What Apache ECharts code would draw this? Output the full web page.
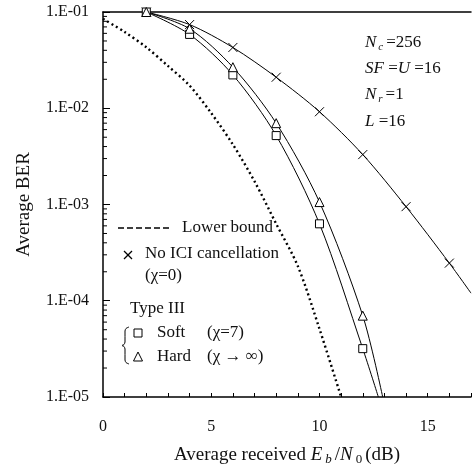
<!DOCTYPE html>
<html><head><meta charset="utf-8">
<script src="https://cdn.jsdelivr.net/npm/echarts@6/dist/echarts.min.js"></script>
<style>html,body{margin:0;padding:0;background:#fff}#c{width:474px;height:471px}</style>
</head><body><div id="c"></div>
<script>
// ---- data ----
const lbX = [0, 1, 2, 3, 4, 5, 6, 7, 8, 9, 10, 11];
const lbY = [0.085, 0.062, 0.043, 0.0275, 0.0172, 0.0089, 0.0042, 0.00174, 0.00063, 0.000229, 0.000051, 0.00001];

const noIciX = [2, 4, 6, 8, 10, 12, 14, 16];
const noIciY = [0.1, 0.074, 0.0428, 0.021, 0.0092, 0.0033, 0.00095, 0.000246];
const noIciEnd = [17, 0.00012];

const softX = [2, 4, 6, 8, 10, 12];
const softY = [0.1, 0.0585, 0.0222, 0.0052, 0.00063, 0.0000318];
const softEnd = [12.72, 0.00001];

const hardX = [2, 4, 6, 8, 10, 12];
const hardY = [0.1, 0.067, 0.0267, 0.007, 0.00106, 0.00007];
const hardEnd = [12.92, 0.00001];

const yMinorTicks = [];
[1e-5, 1e-4, 1e-3, 1e-2].forEach(d => { for (let k = 2; k <= 9; k++) yMinorTicks.push(k * d); });

const FONT = '"Liberation Serif", "Times New Roman", serif';
const INK = '#000';

function withEnd(xs, ys, end) {
  const d = xs.map((x, i) => [x, ys[i]]);
  d.push({ value: end, symbol: 'none' });
  return d;
}

const chart = echarts.init(document.getElementById('c'), null, { renderer: 'canvas' });

const rich = {
  i: { fontFamily: FONT, fontSize: 17, fontStyle: 'italic', color: '#111' },
  n: { fontFamily: FONT, fontSize: 17, color: '#111' },
  s: { fontFamily: FONT, fontSize: 11, fontStyle: 'italic', color: '#111', verticalAlign: 'bottom', padding: [8, 3, 0, 2] }
};
function ann(y, txt) {
  return { type: 'text', x: 365, y: y, style: { text: txt, rich: rich, fontFamily: FONT, fontSize: 17, fill: '#111', verticalAlign: 'middle' } };
}
function ltxt(x, y, t) {
  return { type: 'text', x: x, y: y, style: { text: t, fontFamily: FONT, fontSize: 17, fill: '#111', verticalAlign: 'middle' } };
}

const option = {
  animation: false,
  backgroundColor: '#fff',
  grid: { left: 103, right: 0, top: 12, bottom: 69, containLabel: false },
  xAxis: [{
    type: 'value', min: 0, max: 17, interval: 1,
    axisLine: { lineStyle: { color: INK, width: 1.5 } },
    axisTick: { inside: true, length: 4, lineStyle: { color: INK } },
    axisLabel: { margin: 22, fontFamily: FONT, fontSize: 16, color: '#111',
      formatter: v => (v % 5 === 0 ? String(v) : '') },
    splitLine: { show: false },
    name: 'Average received {i|E}{s|b}/{i|N}{u|0}(dB)',
    nameLocation: 'middle', nameGap: 47,
    nameTextStyle: { fontFamily: FONT, fontSize: 19, color: '#111',
      rich: {
        i: { fontFamily: FONT, fontSize: 19, fontStyle: 'italic', color: '#111' },
        s: { fontFamily: FONT, fontSize: 13, fontStyle: 'italic', color: '#111', verticalAlign: 'bottom', padding: [9, 3, 0, 3] },
        u: { fontFamily: FONT, fontSize: 13, color: '#111', verticalAlign: 'bottom', padding: [9, 3, 0, 3] }
      } }
  }, {
    type: 'value', min: 0, max: 17, position: 'top',
    axisLine: { onZero: false, lineStyle: { color: INK, width: 1.5 } },
    axisTick: { show: false }, axisLabel: { show: false }, splitLine: { show: false }
  }],
  yAxis: {
    type: 'log', logBase: 10, min: 1e-5, max: 0.1,
    axisLine: { lineStyle: { color: INK, width: 1.5 } },
    axisTick: { inside: true, length: 7, lineStyle: { color: INK } },
    axisLabel: { margin: 14, fontFamily: FONT, fontSize: 16, color: '#111',
      formatter: v => '1.E-' + String(Math.round(-Math.log10(v))).padStart(2, '0') },
    splitLine: { show: false },
    name: 'Average BER', nameLocation: 'middle', nameGap: 69,
    nameTextStyle: { fontFamily: FONT, fontSize: 19, color: '#111' }
  },
  series: [
    {
      type: 'custom', silent: true, clip: false, z: 5,
      data: yMinorTicks.map(v => [0, v]),
      renderItem: (params, api) => {
        const p = api.coord([api.value(0), api.value(1)]);
        return { type: 'line', shape: { x1: p[0], y1: p[1], x2: p[0] + 4, y2: p[1] }, style: { stroke: INK, lineWidth: 1 } };
      }
    },
    {
      name: 'Lower bound', type: 'line', smooth: 0.3, symbol: 'none',
      data: lbX.map((x, i) => [x, lbY[i]]),
      lineStyle: { color: INK, width: 2.4, type: [2, 3] }
    },
    {
      name: 'No ICI', type: 'line', smooth: 0.3,
      symbol: 'path://M0,0L10,10M10,0L0,10', symbolSize: 9,
      itemStyle: { color: 'rgba(0,0,0,0)', borderColor: INK, borderWidth: 1 },
      lineStyle: { color: INK, width: 1 },
      data: withEnd(noIciX, noIciY, noIciEnd)
    },
    {
      name: 'Soft', type: 'line', smooth: 0.3,
      symbol: 'rect', symbolSize: 8,
      itemStyle: { color: '#fff', borderColor: INK, borderWidth: 1 },
      lineStyle: { color: INK, width: 1 },
      data: withEnd(softX, softY, softEnd)
    },
    {
      name: 'Hard', type: 'line', smooth: 0.3,
      symbol: 'triangle', symbolSize: 9,
      itemStyle: { color: '#fff', borderColor: INK, borderWidth: 1 },
      lineStyle: { color: INK, width: 1 },
      data: withEnd(hardX, hardY, hardEnd)
    }
  ],
  graphic: [
    ann(43, '{i|N}{s|c}{n|=256}'),
    ann(69, '{i|SF}{n| =}{i|U}{n| =16}'),
    ann(95, '{i|N}{s|r}{n|=1}'),
    ann(122, '{i|L}{n| =16}'),
    // legend
    { type: 'line', shape: { x1: 118, y1: 228, x2: 171, y2: 228 }, style: { stroke: INK, lineWidth: 1.6, lineDash: [6, 3] } },
    ltxt(182, 228, 'Lower bound'),
    { type: 'polyline', shape: { points: [[124, 251], [132, 259]] }, style: { stroke: INK, lineWidth: 1.3 } },
    { type: 'polyline', shape: { points: [[132, 251], [124, 259]] }, style: { stroke: INK, lineWidth: 1.3 } },
    ltxt(145, 254, 'No ICI cancellation'),
    ltxt(145, 276, '(χ=0)'),
    ltxt(130, 309, 'Type III'),
    { type: 'polyline', shape: { smooth: 0.3, points: [[129, 327], [126, 328.5], [125, 331], [125, 342], [124, 344.5], [122, 345.5], [124, 346.5], [125, 349], [125, 360], [126, 362.5], [129, 364]] }, style: { stroke: INK, fill: null, lineWidth: 1 } },
    { type: 'rect', shape: { x: 134, y: 329, width: 8, height: 8 }, style: { stroke: INK, fill: '#fff', lineWidth: 1 } },
    ltxt(157, 333, 'Soft'),
    ltxt(207, 333, '(χ=7)'),
    { type: 'polygon', shape: { points: [[138, 352], [133.5, 361], [142.5, 361]] }, style: { stroke: INK, fill: '#fff', lineWidth: 1 } },
    ltxt(157, 357, 'Hard'),
    ltxt(207, 357, '(χ → ∞)')
  ]
};
chart.setOption(option);
</script>
</body></html>
